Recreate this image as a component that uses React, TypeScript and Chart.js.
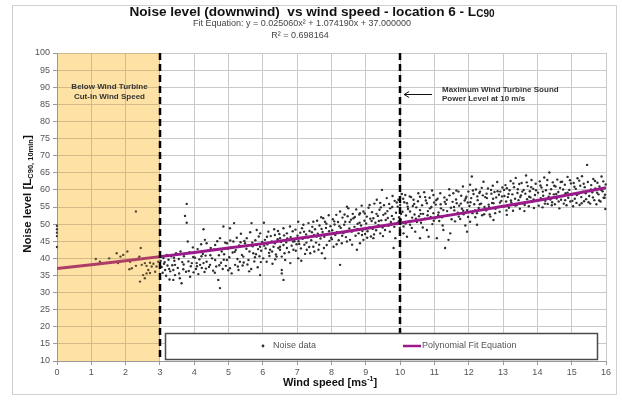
import React, { useEffect, useRef } from 'react';
import { Chart, registerables } from 'chart.js';

Chart.register(...registerables);

const FONT = '"Liberation Sans", Arial, Helvetica, sans-serif';

// ---- axis ranges / ticks ----
const windMin = 0;
const windMax = 16;
const levelMin = 10;
const levelMax = 100;
const levelStep = 5;
const cutInSpeed = 3;
const maxPowerSpeed = 10;

// ---- noise data [wind speed, noise level] ----
const noiseBelowCutIn: [number, number][] = [
  [0, 49.5], [0, 48.5], [0, 47.5], [0, 46.5], [0, 43.3],
  [1.13, 39.8], [1.25, 39.0], [1.52, 40.0], [1.74, 41.5], [1.78, 38.6], [1.85, 40.5], [1.93, 41.0],
  [2.05, 42.0], [2.11, 36.8], [2.13, 39.0], [2.18, 37.1], [2.27, 39.5], [2.3, 53.7], [2.3, 37.8],
  [2.37, 40.0], [2.4, 40.5], [2.42, 33.2], [2.44, 43.0], [2.47, 38.1], [2.51, 35.1], [2.56, 38.6],
  [2.56, 34.2], [2.61, 37.8], [2.61, 35.6], [2.66, 36.6], [2.71, 38.7], [2.71, 35.7], [2.76, 37.6],
  [2.81, 38.4], [2.86, 36.1], [2.9, 37.6], [2.95, 39.0],
];

const noiseLowWind: [number, number][] = [
  [3.02, 39.2], [3.05, 37.5], [3.08, 35.8], [3.1, 40.1], [3.12, 38.4], [3.15, 36.6], [3.18, 34.9], [3.2, 41.0],
  [3.22, 37.9], [3.25, 39.6], [3.28, 33.8], [3.3, 36.2], [3.33, 40.6], [3.36, 38.0], [3.39, 36.6], [3.39, 33.7],
  [3.42, 39.3], [3.44, 38.1], [3.44, 35.1], [3.47, 41.5],
  [3.52, 37.2], [3.55, 39.8], [3.58, 34.2], [3.6, 42.0], [3.63, 32.7], [3.65, 38.9], [3.68, 36.8], [3.7, 40.6],
  [3.73, 52.4], [3.76, 36.1], [3.78, 55.9], [3.78, 50.4], [3.81, 44.9], [3.83, 39.1], [3.86, 41.8], [3.88, 34.6],
  [3.9, 37.7], [3.93, 38.6], [3.96, 43.2], [3.98, 35.9],
  [4.02, 40.2], [4.05, 36.9], [4.07, 38.6], [4.1, 42.7], [4.12, 35.4], [4.15, 39.7], [4.17, 38.1], [4.2, 44.1],
  [4.22, 37.2], [4.25, 41.3], [4.27, 38.6], [4.27, 48.5], [4.3, 36.0], [4.31, 45.4], [4.33, 40.8], [4.36, 39.0],
  [4.36, 44.4], [4.4, 42.2], [4.43, 37.5], [4.46, 38.1], [4.48, 43.0],
  [4.52, 40.0], [4.55, 36.4], [4.58, 42.6], [4.61, 39.5], [4.61, 43.9], [4.64, 37.6], [4.67, 45.0], [4.7, 33.7],
  [4.72, 40.9], [4.75, 31.3], [4.75, 45.9], [4.78, 38.7], [4.8, 42.0], [4.83, 36.9], [4.85, 49.3], [4.87, 41.2],
  [4.9, 44.6], [4.92, 37.8], [4.95, 39.5], [4.95, 44.4], [4.98, 42.8],
  [5.02, 40.3], [5.04, 48.8], [5.04, 37.1], [5.07, 43.1], [5.09, 35.6], [5.12, 41.7], [5.14, 44.9], [5.16, 50.3],
  [5.19, 38.1], [5.21, 42.4], [5.24, 46.0], [5.26, 39.8], [5.29, 36.6], [5.31, 43.8], [5.33, 39.0], [5.33, 43.4],
  [5.36, 47.2], [5.39, 41.0], [5.41, 37.9], [5.43, 40.5], [5.46, 45.1], [5.48, 44.4],
  [5.53, 45.9], [5.55, 38.2], [5.58, 39.5], [5.61, 42.0], [5.63, 47.6], [5.66, 36.9], [5.67, 50.3], [5.7, 43.5],
  [5.72, 41.5], [5.75, 39.1], [5.78, 45.3], [5.8, 41.2], [5.82, 48.3], [5.82, 43.9], [5.85, 37.4], [5.88, 46.4],
  [5.9, 40.6], [5.92, 47.3], [5.92, 43.4], [5.92, 35.1], [5.95, 42.2], [5.98, 44.8],
];

const noiseMidWind: [number, number][] = [
  [6.01, 40.0], [6.03, 50.4], [6.06, 45.4], [6.08, 42.9], [6.11, 39.0], [6.13, 44.1], [6.16, 47.8], [6.18, 41.6],
  [6.21, 42.5], [6.23, 46.5], [6.26, 44.9], [6.28, 38.4], [6.31, 43.4], [6.33, 48.5], [6.35, 46.8], [6.35, 44.4],
  [6.38, 41.1], [6.4, 40.5], [6.43, 45.6], [6.45, 43.0], [6.48, 47.1],
  [6.5, 42.5], [6.5, 45.9], [6.5, 43.4], [6.55, 40.5], [6.55, 36.6], [6.55, 35.6], [6.6, 48.8], [6.6, 43.9],
  [6.6, 33.7], [6.62, 46.7], [6.65, 39.5], [6.68, 44.7], [6.7, 47.3], [6.7, 43.0], [6.74, 45.4], [6.76, 41.8],
  [6.79, 49.3], [6.81, 46.2], [6.84, 43.7], [6.87, 47.9], [6.89, 42.5], [6.92, 45.0], [6.95, 48.4], [6.98, 44.1],
  [7.01, 46.6], [7.03, 50.7], [7.03, 40.0], [7.06, 44.2], [7.09, 47.5], [7.11, 42.9], [7.14, 48.8], [7.16, 45.7],
  [7.18, 49.8], [7.21, 44.0], [7.23, 41.3], [7.26, 47.0], [7.28, 42.5], [7.31, 46.1], [7.33, 50.3], [7.36, 48.0],
  [7.38, 41.5], [7.41, 45.3], [7.44, 49.2], [7.47, 50.7], [7.47, 43.4], [7.49, 46.8],
  [7.52, 48.5], [7.55, 44.6], [7.58, 51.0], [7.6, 47.2], [7.62, 42.5], [7.65, 49.6], [7.68, 45.8], [7.7, 52.0],
  [7.72, 41.5], [7.74, 47.7], [7.76, 51.7], [7.79, 46.3], [7.81, 50.7], [7.81, 40.0], [7.84, 48.9], [7.86, 43.9],
  [7.89, 47.0], [7.92, 52.6], [7.94, 45.1], [7.97, 49.4], [7.99, 46.0],
  [8.02, 48.2], [8.04, 51.4], [8.06, 43.4], [8.09, 49.9], [8.11, 46.8], [8.14, 52.7], [8.16, 47.6], [8.19, 50.6],
  [8.21, 45.3], [8.25, 53.7], [8.25, 38.1], [8.27, 48.9], [8.3, 44.4], [8.32, 51.9], [8.35, 47.4], [8.37, 49.8],
  [8.4, 50.7], [8.42, 46.2], [8.45, 55.1], [8.45, 44.9], [8.47, 52.3], [8.49, 54.6],
  [8.52, 48.7], [8.54, 45.4], [8.57, 51.3], [8.59, 47.8], [8.62, 53.0], [8.64, 51.7], [8.67, 49.2], [8.7, 46.6],
  [8.72, 54.3], [8.74, 42.5], [8.76, 50.1], [8.79, 47.3], [8.81, 52.8], [8.83, 53.2], [8.83, 44.4], [8.86, 49.6],
  [8.88, 55.4], [8.9, 48.0], [8.93, 53.7], [8.93, 45.4], [8.96, 51.0], [8.98, 47.1],
  [9.01, 50.2], [9.03, 52.2], [9.05, 47.9], [9.08, 54.8], [9.1, 49.0], [9.13, 51.6], [9.15, 46.4], [9.18, 53.5],
  [9.2, 48.6], [9.22, 51.7], [9.22, 45.9], [9.25, 56.0], [9.28, 50.4], [9.3, 48.2], [9.32, 57.1], [9.35, 52.4],
  [9.37, 49.7], [9.4, 54.2], [9.42, 56.2], [9.42, 47.3], [9.45, 51.1], [9.47, 60.0], [9.49, 49.0],
  [9.51, 52.7], [9.53, 55.5], [9.56, 48.3], [9.58, 51.2], [9.61, 57.6], [9.63, 53.8], [9.66, 49.5], [9.68, 55.9],
  [9.71, 54.6], [9.73, 50.6], [9.76, 52.4], [9.78, 58.2], [9.81, 43.0], [9.81, 51.5], [9.84, 56.8], [9.86, 45.9],
  [9.88, 53.3], [9.91, 50.0], [9.93, 55.1], [9.95, 57.1], [9.97, 52.0], [9.99, 48.9],
];

const noiseHighWind: [number, number][] = [
  [10.0, 55.6], [10.02, 51.3], [10.05, 58.8], [10.07, 53.6], [10.1, 49.3], [10.1, 47.3], [10.12, 56.4], [10.15, 58.5],
  [10.17, 52.5], [10.2, 56.1], [10.2, 46.3], [10.23, 54.4], [10.26, 50.7], [10.29, 53.7], [10.29, 49.8], [10.32, 57.9],
  [10.35, 51.9], [10.37, 55.3], [10.39, 57.1], [10.42, 52.8], [10.44, 47.8], [10.47, 54.9], [10.49, 50.6],
  [10.52, 56.7], [10.55, 52.3], [10.58, 58.0], [10.58, 54.1], [10.58, 45.9], [10.61, 50.4], [10.64, 55.5], [10.67, 53.0],
  [10.7, 59.3], [10.72, 51.6], [10.75, 56.9], [10.78, 56.1], [10.78, 48.3], [10.81, 53.8], [10.83, 46.3], [10.86, 57.7],
  [10.89, 52.1], [10.91, 55.0], [10.94, 50.0], [10.97, 58.5], [10.97, 53.2], [10.99, 56.3],
  [11.02, 51.7], [11.04, 55.7], [11.07, 45.9], [11.09, 57.4], [11.12, 53.4], [11.14, 50.9], [11.17, 59.0], [11.19, 54.6],
  [11.22, 52.0], [11.26, 54.1], [11.26, 48.3], [11.29, 57.8], [11.31, 43.0], [11.33, 55.9], [11.36, 57.1], [11.38, 52.6],
  [11.41, 45.4], [11.43, 60.2], [11.46, 47.3], [11.48, 54.8],
  [11.51, 52.7], [11.53, 56.5], [11.55, 59.0], [11.58, 54.0], [11.6, 50.8], [11.63, 57.2], [11.65, 56.1], [11.68, 53.3],
  [11.7, 59.5], [11.72, 55.4], [11.75, 51.5], [11.78, 58.3], [11.8, 54.5], [11.83, 61.0], [11.85, 52.9], [11.88, 56.9],
  [11.9, 49.6], [11.93, 58.0], [11.95, 54.1], [11.95, 47.8], [11.97, 56.3], [11.99, 59.5],
  [12.02, 55.3], [12.04, 61.5], [12.04, 50.7], [12.07, 57.6], [12.09, 63.9], [12.11, 53.2], [12.14, 58.8], [12.16, 55.8],
  [12.19, 52.0], [12.21, 60.1], [12.24, 53.2], [12.24, 49.8], [12.26, 57.0], [12.29, 54.7], [12.31, 59.1], [12.33, 59.5],
  [12.36, 56.0], [12.39, 52.6], [12.41, 58.4], [12.43, 62.4], [12.46, 55.0], [12.48, 57.9],
  [12.51, 54.0], [12.53, 57.6], [12.56, 60.4], [12.58, 55.7], [12.61, 52.8], [12.63, 52.2], [12.66, 58.9], [12.68, 56.2],
  [12.7, 61.2], [12.72, 56.1], [12.72, 51.2], [12.75, 59.4], [12.78, 54.5], [12.8, 57.8], [12.83, 62.3], [12.85, 55.0],
  [12.88, 58.6], [12.9, 53.6], [12.92, 59.5], [12.95, 56.8], [12.98, 60.7],
];

const noiseTopWind: [number, number][] = [
  [13.02, 55.1], [13.04, 58.2], [13.07, 61.4], [13.09, 56.6], [13.11, 60.5], [13.11, 52.7], [13.14, 57.9], [13.17, 54.8],
  [13.19, 59.9], [13.22, 62.6], [13.24, 56.3], [13.27, 58.7], [13.29, 53.9], [13.32, 60.8], [13.35, 57.4], [13.37, 63.5],
  [13.4, 55.6], [13.42, 59.1], [13.45, 57.0], [13.47, 61.7], [13.49, 54.5],
  [13.52, 58.4], [13.54, 62.0], [13.57, 56.1], [13.6, 60.0], [13.62, 53.8], [13.65, 58.9], [13.67, 64.2], [13.7, 57.3],
  [13.72, 61.1], [13.75, 55.2], [13.78, 59.6], [13.8, 57.8], [13.83, 62.9], [13.85, 56.5], [13.88, 60.3], [13.9, 54.7],
  [13.93, 58.5], [13.95, 61.8], [13.98, 56.9],
  [14.02, 59.2], [14.04, 55.4], [14.07, 62.5], [14.1, 57.6], [14.12, 60.7], [14.15, 54.9], [14.17, 58.3], [14.2, 63.6],
  [14.23, 56.8], [14.25, 59.9], [14.28, 61.4], [14.3, 55.9], [14.33, 58.0], [14.35, 65.1], [14.38, 57.2], [14.4, 60.2],
  [14.43, 56.4], [14.45, 62.2], [14.48, 58.7],
  [14.51, 55.8], [14.53, 61.0], [14.56, 57.5], [14.58, 63.0], [14.61, 59.4], [14.64, 54.6], [14.66, 60.6], [14.69, 57.1],
  [14.72, 62.4], [14.74, 58.2], [14.77, 56.0], [14.8, 61.5], [14.82, 59.0], [14.85, 55.5], [14.88, 63.8], [14.9, 57.7],
  [14.93, 60.0], [14.96, 56.6], [14.98, 61.9],
  [15.01, 58.6], [15.04, 55.2], [15.06, 62.0], [15.09, 57.4], [15.12, 60.3], [15.14, 56.2], [15.17, 63.4], [15.2, 58.9],
  [15.23, 55.6], [15.25, 61.2], [15.28, 57.9], [15.3, 64.0], [15.33, 59.5], [15.36, 56.7], [15.38, 60.8], [15.42, 57.3],
  [15.45, 67.3], [15.47, 62.3],
  [15.51, 58.2], [15.54, 56.0], [15.57, 61.4], [15.6, 59.3], [15.63, 63.2], [15.66, 57.0], [15.69, 60.4], [15.72, 55.8],
  [15.75, 62.1], [15.78, 58.7], [15.81, 61.0], [15.84, 56.6], [15.87, 63.9], [15.9, 59.6], [15.93, 57.7], [15.96, 57.7],
  [15.98, 54.4], [15.99, 61.6],
];

const noiseDenseCloud: [number, number][] = [
  [3.14, 38.9], [3.27, 36.9], [3.41, 40.2], [3.56, 35.6], [3.69, 38.2], [3.84, 36.3], [3.97, 40.4], [4.08, 37.7],
  [4.21, 40.6], [4.34, 37.0], [4.47, 40.9], [4.6, 35.8], [4.73, 38.0], [4.86, 39.6], [4.99, 36.5],
  [5.05, 45.2], [5.18, 41.9], [5.27, 37.6], [5.35, 44.7], [5.44, 38.8], [5.52, 42.8], [5.6, 36.2], [5.69, 44.6],
  [5.77, 40.3], [5.86, 42.7], [5.94, 38.9],
  [6.04, 43.7], [6.12, 46.3], [6.19, 40.7], [6.27, 42.0], [6.36, 39.7], [6.44, 48.0], [6.53, 44.8], [6.63, 41.5],
  [6.71, 45.8], [6.8, 38.6], [6.88, 44.9], [6.96, 42.2],
  [7.04, 45.0], [7.12, 39.3], [7.2, 47.8], [7.27, 44.6], [7.35, 43.3], [7.43, 47.6], [7.5, 42.0], [7.57, 46.4],
  [7.64, 44.0], [7.71, 48.6], [7.78, 43.0], [7.85, 50.1], [7.93, 47.9],
  [8.01, 45.6], [8.08, 50.8], [8.15, 44.1], [8.23, 49.4], [8.31, 46.6], [8.38, 52.8], [8.46, 48.0], [8.53, 50.6],
  [8.6, 44.0], [8.68, 52.1], [8.75, 48.6], [8.82, 50.4], [8.89, 46.8], [8.97, 53.1],
  [9.04, 46.0], [9.11, 55.6], [9.17, 50.9], [9.24, 47.0], [9.31, 53.0], [9.38, 50.9], [9.44, 54.9], [9.5, 46.5],
  [9.57, 53.1], [9.64, 51.8], [9.7, 47.8], [9.77, 55.0], [9.83, 49.2], [9.9, 56.3], [9.96, 50.8],
  [10.03, 53.0], [10.09, 57.4], [10.16, 50.2], [10.22, 55.1], [10.28, 58.1], [10.34, 48.9], [10.41, 55.9], [10.46, 51.6],
  [10.53, 59.0], [10.6, 53.0], [10.66, 49.0], [10.73, 57.9], [10.8, 52.6], [10.87, 54.6], [10.93, 59.8], [10.98, 51.0],
  [11.05, 57.0], [11.11, 52.6], [11.18, 55.8], [11.24, 49.6], [11.3, 56.5], [11.37, 53.8], [11.44, 58.4], [11.5, 51.4],
  [11.57, 55.0], [11.64, 59.8], [11.71, 52.2], [11.77, 56.0], [11.84, 53.9], [11.91, 57.5], [11.98, 52.1],
  [12.05, 56.4], [12.12, 59.8], [12.18, 54.0], [12.25, 58.1], [12.32, 55.8], [12.38, 60.6], [12.45, 52.9], [12.52, 58.9],
  [12.59, 55.0], [12.65, 60.0], [12.71, 57.4], [12.77, 53.2], [12.84, 59.6], [12.91, 56.3], [12.97, 58.1],
  [13.03, 60.0], [13.1, 54.0], [13.16, 58.8], [13.23, 56.9], [13.3, 61.9], [13.36, 55.4], [13.43, 60.2], [13.5, 57.9],
  [13.56, 59.5], [13.63, 55.6], [13.69, 62.2], [13.76, 58.0], [13.82, 60.8], [13.89, 57.2], [13.96, 59.9],
  [14.03, 57.0], [14.09, 61.3], [14.16, 59.5], [14.22, 56.0], [14.29, 62.9], [14.36, 58.9], [14.42, 55.5], [14.49, 61.2],
  [14.55, 58.8], [14.62, 56.6], [14.68, 62.3], [14.75, 60.1], [14.81, 57.0], [14.88, 59.2], [14.95, 62.8],
  [15.02, 56.8], [15.08, 60.9], [15.15, 58.5], [15.22, 62.7], [15.29, 56.1], [15.35, 61.8], [15.41, 59.0], [15.49, 56.4],
  [15.56, 60.1], [15.62, 57.8], [15.68, 62.6], [15.74, 59.2], [15.8, 56.9], [15.86, 60.0], [15.92, 62.5], [15.97, 58.6],
];

// ---- polynomial fit line, read at each integer wind speed ----
const fitSpeeds = [0, 1, 2, 3, 4, 5, 6, 7, 8, 9, 10, 11, 12, 13, 14, 15, 16];
const fitLevels = [37.0, 38.1, 39.3, 40.5, 41.7, 43.0, 44.3, 45.8, 47.2, 48.7, 50.3, 51.9, 53.5, 55.2, 56.9, 58.7, 60.6];

// ---- texts ----
const titleMain = 'Noise level (downwind)  vs wind speed - location 6 - L';
const titleSub = 'C90';
const fitEquationText = 'Fit Equation: y = 0.025060x\u00B2 + 1.074190x + 37.000000';
const rSquaredText = 'R\u00B2 = 0.698164';
const yTitleMain = 'Noise level [L';
const yTitleSub = 'C90, 10min';
const xTitleMain = 'Wind speed [ms';
const xTitleSup = '-1';
const cutInLabel = ['Below Wind Turbine', 'Cut-In Wind Speed'];
const maxPowerLabel = ['Maximum Wind Turbine Sound', 'Power Level at 10 m/s'];
const legendNoise = 'Noise data';
const legendFit = 'Polynomial Fit Equation';

const FIT_COLOR = '#9a1a8c';
const POINT_COLOR = '#2e2e2e';

type Part = { t: string; font: string; dy: number };

function drawParts(ctx: CanvasRenderingContext2D, parts: Part[], cx: number, cy: number, color: string) {
  let total = 0;
  parts.forEach((p) => {
    ctx.font = p.font;
    total += ctx.measureText(p.t).width;
  });
  let x = cx - total / 2;
  ctx.fillStyle = color;
  ctx.textAlign = 'left';
  ctx.textBaseline = 'middle';
  parts.forEach((p) => {
    ctx.font = p.font;
    ctx.fillText(p.t, x, cy + p.dy);
    x += ctx.measureText(p.t).width;
  });
}

const decorPlugin = {
  id: 'decor',
  beforeDraw(chart: any) {
    const ctx: CanvasRenderingContext2D = chart.ctx;
    ctx.save();
    ctx.fillStyle = '#ffffff';
    ctx.fillRect(0, 0, chart.width, chart.height);
    ctx.restore();
  },
  afterDatasetsDraw(chart: any) {
    const ctx: CanvasRenderingContext2D = chart.ctx;
    const a = chart.chartArea;
    const xs = chart.scales.x;
    ctx.save();
    // shaded region below cut-in speed (tinted overlay)
    const x0 = xs.getPixelForValue(windMin);
    const x3 = xs.getPixelForValue(cutInSpeed);
    ctx.globalCompositeOperation = 'multiply';
    ctx.fillStyle = 'rgb(253,232,178)';
    ctx.fillRect(x0, a.top, x3 - x0, a.bottom - a.top);
    ctx.globalCompositeOperation = 'source-over';
    ctx.fillStyle = 'rgba(255,200,120,0.22)';
    ctx.fillRect(x0, a.top, x3 - x0, a.bottom - a.top);
    // dashed verticals
    ctx.strokeStyle = '#000';
    ctx.lineWidth = 2.5;
    ctx.setLineDash([7, 4]);
    [cutInSpeed, maxPowerSpeed].forEach((v) => {
      const px = Math.round(xs.getPixelForValue(v));
      ctx.beginPath();
      ctx.moveTo(px, a.top);
      ctx.lineTo(px, a.bottom);
      ctx.stroke();
    });
    ctx.setLineDash([]);
    ctx.restore();
  },
  afterDraw(chart: any) {
    const ctx: CanvasRenderingContext2D = chart.ctx;
    const xs = chart.scales.x;
    ctx.save();

    // outer frame
    ctx.strokeStyle = '#cfcfcf';
    ctx.lineWidth = 1;
    ctx.strokeRect(12.5, 5.5, 604, 389);

    // titles
    drawParts(ctx, [
      { t: titleMain, font: `bold 13.6px ${FONT}`, dy: 0 },
      { t: titleSub, font: `bold 10px ${FONT}`, dy: 2 },
    ], 312, 12, '#111');
    ctx.font = `9px ${FONT}`;
    ctx.fillStyle = '#444';
    ctx.textAlign = 'center';
    ctx.textBaseline = 'middle';
    ctx.fillText(fitEquationText, 302, 24);
    ctx.fillText(rSquaredText, 300, 36);

    // x title
    drawParts(ctx, [
      { t: xTitleMain, font: `bold 11px ${FONT}`, dy: 0 },
      { t: xTitleSup, font: `bold 7px ${FONT}`, dy: -4 },
      { t: ']', font: `bold 11px ${FONT}`, dy: 0 },
    ], 330, 383, '#111');

    // y title (rotated)
    ctx.save();
    ctx.translate(28, 194);
    ctx.rotate(-Math.PI / 2);
    drawParts(ctx, [
      { t: yTitleMain, font: `bold 11.5px ${FONT}`, dy: 0 },
      { t: yTitleSub, font: `bold 7.5px ${FONT}`, dy: 3 },
      { t: ']', font: `bold 11.5px ${FONT}`, dy: 0 },
    ], 0, 0, '#111');
    ctx.restore();

    // annotations
    ctx.font = `bold 8px ${FONT}`;
    ctx.fillStyle = '#333';
    ctx.textAlign = 'center';
    ctx.textBaseline = 'middle';
    const cx = (xs.getPixelForValue(windMin) + xs.getPixelForValue(cutInSpeed)) / 2 + 1;
    ctx.fillText(cutInLabel[0], cx, 87);
    ctx.fillText(cutInLabel[1], cx, 97);
    ctx.textAlign = 'left';
    ctx.fillText(maxPowerLabel[0], 442, 90);
    ctx.fillText(maxPowerLabel[1], 442, 99);
    // arrow
    const ax = xs.getPixelForValue(maxPowerSpeed) + 4;
    ctx.strokeStyle = '#111';
    ctx.lineWidth = 1;
    ctx.beginPath();
    ctx.moveTo(432, 94.5);
    ctx.lineTo(ax, 94.5);
    ctx.moveTo(ax + 5, 91.5);
    ctx.lineTo(ax, 94.5);
    ctx.lineTo(ax + 5, 97.5);
    ctx.stroke();

    // legend box
    ctx.fillStyle = '#fff';
    ctx.fillRect(165, 333, 432, 26);
    ctx.strokeStyle = '#4a4a4a';
    ctx.lineWidth = 1.5;
    ctx.strokeRect(165.5, 333.5, 432, 26);
    ctx.fillStyle = POINT_COLOR;
    ctx.beginPath();
    ctx.arc(263, 346, 1.4, 0, Math.PI * 2);
    ctx.fill();
    ctx.font = `9px ${FONT}`;
    ctx.fillStyle = '#555';
    ctx.textAlign = 'left';
    ctx.textBaseline = 'middle';
    ctx.fillText(legendNoise, 273, 346);
    ctx.strokeStyle = FIT_COLOR;
    ctx.lineWidth = 2.5;
    ctx.beginPath();
    ctx.moveTo(403, 346);
    ctx.lineTo(421, 346);
    ctx.stroke();
    ctx.fillText(legendFit, 422, 346);

    ctx.restore();
  },
};

export default function App() {
  const canvasRef = useRef<HTMLCanvasElement | null>(null);

  useEffect(() => {
    if (!canvasRef.current) return;
    const toXY = (arr: [number, number][]) => arr.map(([x, y]) => ({ x, y }));
    const noiseAll = [
      ...toXY(noiseBelowCutIn),
      ...toXY(noiseLowWind),
      ...toXY(noiseMidWind),
      ...toXY(noiseHighWind),
      ...toXY(noiseTopWind),
      ...toXY(noiseDenseCloud),
    ];
    const fitData = fitSpeeds.map((s, i) => ({ x: s, y: fitLevels[i] }));

    const chart = new Chart(canvasRef.current, {
      type: 'scatter',
      data: {
        datasets: [
          {
            label: legendFit,
            data: fitData,
            showLine: true,
            borderColor: FIT_COLOR,
            backgroundColor: FIT_COLOR,
            borderWidth: 3,
            pointRadius: 0,
            tension: 0,
            order: 1,
          },
          {
            label: legendNoise,
            data: noiseAll,
            pointRadius: 1.2,
            pointBorderWidth: 0,
            backgroundColor: POINT_COLOR,
            borderColor: POINT_COLOR,
            clip: 4,
            order: 2,
          },
        ],
      },
      options: {
        responsive: false,
        animation: false,
        events: [],
        layout: { padding: { top: 53, right: 16, left: 0, bottom: 0 }, autoPadding: false },
        plugins: {
          legend: { display: false },
          title: { display: false },
          tooltip: { enabled: false },
        },
        scales: {
          x: {
            type: 'linear',
            min: windMin,
            max: windMax,
            afterFit: (s: any) => { s.height = 42; },
            ticks: {
              stepSize: 1,
              color: '#555',
              font: { family: FONT, size: 9 },
              padding: 2,
            },
            grid: { color: '#c9c9c9', lineWidth: 1, tickLength: 4, tickColor: '#999' },
            border: { color: '#999' },
          },
          y: {
            type: 'linear',
            min: levelMin,
            max: levelMax,
            afterFit: (s: any) => { s.width = 57; },
            ticks: {
              stepSize: levelStep,
              color: '#555',
              font: { family: FONT, size: 9 },
              padding: 3,
            },
            grid: { color: '#c9c9c9', lineWidth: 1, tickLength: 4, tickColor: '#999' },
            border: { color: '#999' },
          },
        },
      },
      plugins: [decorPlugin],
    });
    return () => chart.destroy();
  }, []);

  return (
    <div style={{ position: 'fixed', left: 0, top: 0, width: 622, height: 403, background: '#fff' }}>
      <canvas ref={canvasRef} width={622} height={403} style={{ display: 'block' }} />
    </div>
  );
}
